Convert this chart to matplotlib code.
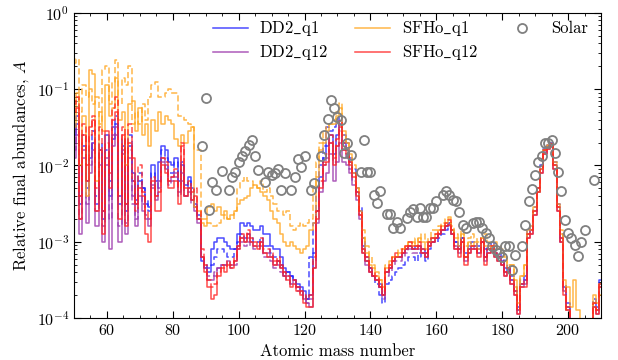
import numpy as np
import matplotlib
matplotlib.use("Agg")
import matplotlib.pyplot as plt
from matplotlib.ticker import MultipleLocator

plt.rcParams['font.family'] = 'serif'
plt.rcParams['font.serif'] = ['cmr10']
plt.rcParams['mathtext.fontset'] = 'cm'
plt.rcParams['axes.formatter.use_mathtext'] = True

mass_number = np.arange(50, 211)

# log10 abundances, A = 50..210
dd2_q1_solid = [
 -1.6, -1.45, -2.5, -1.75, -2.3, -1.9, -1.7, -2.5, -1.8, -2.7,
 -1.6, -2.4, -1.65, -1.45, -2.5, -1.75, -2.6, -1.75, -2.1, -2.45,
 -2.2, -2.3, -2.5, -2.55, -2.0, -2.2, -1.95, -1.75, -1.8, -1.95,
 -2.0, -1.9, -2.2, -2.0, -2.25, -2.15, -2.3, -2.55, -2.65, -3.25,
 -3.35, -3.4, -3.1, -3.0, -2.95, -2.95, -3.0, -3.05, -3.1, -3.1,
 -2.9, -2.75, -2.8, -2.75, -2.8, -2.85, -2.85, -2.8, -2.9, -2.9,
 -3.05, -3.1, -3.1, -3.2, -3.35, -3.4, -3.45, -3.5, -3.55, -3.6,
 -3.65, -3.75, -3.7, -3.15, -2.6, -2.15, -1.9, -1.75, -1.6, -1.85,
 -1.6, -1.45, -1.7, -1.8, -1.95, -2.1, -2.35, -2.6, -3.05, -3.2,
 -3.35, -3.45, -3.5, -3.55, -3.7, -3.4, -3.35, -3.25, -3.2, -3.2,
 -3.15, -3.1, -3.05, -3.1, -3.05, -3.05, -3.1, -3.15, -3.0, -2.95,
 -2.95, -2.9, -2.85, -2.8, -2.75, -2.85, -3.0, -3.1, -2.95, -3.2,
 -3.1, -3.05, -3.05, -3.1, -3.0, -3.2, -3.1, -3.05, -3.15, -3.2,
 -3.25, -3.4, -3.35, -3.5, -3.65, -3.9, -3.55, -3.5, -2.9, -2.85,
 -2.6, -2.3, -2.05, -1.8, -1.75, -1.7, -2.0, -2.55, -2.95, -3.6,
 -3.85, -4.2, -4.2, -4.2, -4.2, -4.2, -4.2, -4.2, -3.8, -3.9,
 -3.55]
dd2_q1_dashed = [
 -1.5, -1.35, -2.4, -1.6, -2.2, -1.8, -1.55, -2.4, -1.7, -2.6,
 -1.8, -2.2, -1.5, -1.35, -2.4, -1.65, -2.5, -1.6, -2.2, -2.5,
 -2.1, -2.3, -2.45, -2.6, -2.1, -2.3, -2.2, -1.8, -1.9, -2.1,
 -2.1, -1.95, -2.25, -1.95, -2.3, -2.2, -2.4, -2.5, -2.7, -3.2,
 -3.3, -3.35, -3.3, -3.2, -3.1, -3.1, -3.15, -3.2, -3.2, -3.1,
 -3.0, -2.9, -2.95, -2.9, -2.95, -3.0, -3.0, -2.95, -3.05, -3.05,
 -3.15, -3.2, -3.25, -3.3, -3.45, -3.4, -3.45, -3.5, -3.6, -3.65,
 -3.7, -3.75, -3.2, -2.75, -2.3, -2.0, -1.75, -1.5, -1.55, -1.5,
 -1.45, -1.36, -1.6, -1.7, -1.9, -2.05, -2.3, -2.55, -2.95, -3.25,
 -3.35, -3.45, -3.55, -3.7, -3.8, -3.55, -3.5, -3.45, -3.4, -3.35,
 -3.3, -3.25, -3.2, -3.2, -3.25, -3.15, -3.2, -3.25, -3.1, -3.0,
 -3.0, -2.95, -2.9, -2.85, -2.8, -2.9, -3.0, -3.05, -2.95, -3.15,
 -3.05, -3.0, -3.0, -3.05, -2.95, -3.1, -3.05, -3.0, -3.1, -3.1,
 -3.2, -3.35, -3.3, -3.45, -3.6, -3.85, -3.5, -3.45, -2.85, -2.8,
 -2.55, -2.3, -2.0, -1.78, -1.73, -1.7, -1.95, -2.5, -2.9, -3.55,
 -3.8, -4.2, -4.2, -4.2, -4.2, -4.2, -4.2, -4.2, -3.75, -3.85,
 -3.5]
dd2_q12_solid = [
 -1.9, -1.6, -2.9, -1.9, -2.75, -2.1, -1.8, -2.8, -2.0, -3.0,
 -1.9, -3.1, -1.75, -1.6, -3.0, -1.85, -2.9, -1.9, -2.4, -2.8,
 -2.4, -2.6, -2.7, -2.8, -2.3, -2.45, -2.2, -1.9, -2.0, -2.2,
 -2.15, -2.1, -2.35, -2.2, -2.4, -2.3, -2.45, -2.6, -2.75, -3.2,
 -3.35, -3.5, -3.5, -3.45, -3.35, -3.3, -3.3, -3.25, -3.3, -3.25,
 -3.05, -2.95, -3.0, -2.95, -3.0, -3.05, -3.05, -3.0, -3.15, -3.15,
 -3.2, -3.3, -3.25, -3.35, -3.4, -3.45, -3.55, -3.5, -3.6, -3.65,
 -3.75, -3.8, -3.85, -3.35, -2.75, -2.35, -2.2, -2.1, -1.85, -2.2,
 -1.95, -1.7, -1.95, -2.0, -2.1, -2.25, -2.45, -2.7, -3.15, -3.3,
 -3.4, -3.45, -3.5, -3.6, -3.7, -3.4, -3.35, -3.25, -3.2, -3.2,
 -3.15, -3.1, -3.05, -3.1, -3.1, -3.05, -3.15, -3.2, -3.05, -3.0,
 -2.95, -2.9, -2.85, -2.8, -2.78, -2.9, -3.1, -3.15, -3.0, -3.25,
 -3.15, -3.1, -3.1, -3.15, -3.0, -3.25, -3.15, -3.1, -3.2, -3.25,
 -3.3, -3.45, -3.4, -3.55, -3.7, -3.95, -3.6, -3.55, -2.95, -2.9,
 -2.65, -2.35, -2.1, -1.85, -1.78, -1.72, -2.05, -2.6, -3.0, -3.65,
 -3.9, -4.2, -4.2, -4.2, -4.2, -4.2, -4.2, -4.2, -3.85, -3.95,
 -3.6]
dd2_q12_dashed = [
 -1.8, -1.5, -2.7, -1.8, -2.5, -2.0, -1.7, -2.6, -1.9, -2.8,
 -2.0, -2.7, -1.6, -1.5, -2.8, -1.8, -2.75, -1.8, -2.5, -2.7,
 -2.3, -2.5, -2.65, -2.7, -2.25, -2.4, -2.3, -1.95, -2.05, -2.25,
 -2.2, -2.15, -2.4, -2.1, -2.4, -2.35, -2.5, -2.55, -2.7, -3.2,
 -3.3, -3.45, -3.45, -3.4, -3.35, -3.3, -3.3, -3.3, -3.35, -3.3,
 -3.1, -3.0, -3.05, -3.0, -3.05, -3.1, -3.1, -3.05, -3.2, -3.2,
 -3.25, -3.35, -3.3, -3.4, -3.45, -3.5, -3.55, -3.55, -3.65, -3.7,
 -3.75, -3.8, -3.75, -3.25, -2.6, -2.25, -2.0, -1.9, -1.7, -1.95,
 -1.75, -1.55, -1.8, -1.9, -2.05, -2.2, -2.4, -2.65, -3.1, -3.25,
 -3.4, -3.45, -3.5, -3.6, -3.75, -3.45, -3.4, -3.3, -3.25, -3.25,
 -3.2, -3.15, -3.1, -3.15, -3.15, -3.1, -3.15, -3.2, -3.05, -3.0,
 -2.95, -2.9, -2.85, -2.8, -2.75, -2.9, -3.05, -3.1, -3.0, -3.2,
 -3.1, -3.05, -3.1, -3.15, -3.0, -3.2, -3.1, -3.1, -3.15, -3.2,
 -3.3, -3.4, -3.4, -3.5, -3.65, -3.9, -3.55, -3.5, -2.9, -2.85,
 -2.6, -2.35, -2.05, -1.82, -1.75, -1.72, -2.0, -2.55, -3.0, -3.6,
 -3.9, -4.2, -4.2, -4.2, -4.2, -4.2, -4.2, -4.2, -3.8, -3.9,
 -3.55]
sfho_q1_solid = [
 -1.5, -1.05, -2.0, -1.35, -2.4, -0.75, -0.8, -2.2, -1.3, -1.55,
 -0.95, -1.35, -1.25, -0.85, -1.4, -1.3, -2.0, -1.2, -1.15, -1.55,
 -1.25, -1.6, -1.45, -1.75, -1.4, -1.55, -1.3, -1.45, -1.35, -1.4,
 -1.45, -1.65, -1.75, -1.6, -1.7, -1.55, -1.5, -2.55, -2.6, -2.75,
 -2.8, -2.55, -2.5, -2.6, -2.55, -2.65, -2.6, -2.7, -2.65, -2.6,
 -2.5, -2.45, -2.42, -2.4, -2.3, -2.25, -2.3, -2.35, -2.4, -2.45,
 -2.6, -2.7, -2.75, -2.9, -3.0, -3.05, -3.0, -3.05, -3.1, -3.15,
 -3.1, -3.05, -2.85, -2.75, -2.15, -1.8, -1.7, -1.55, -1.45, -1.45,
 -1.35, -1.25, -1.55, -1.7, -1.85, -2.1, -2.3, -2.6, -2.95, -3.15,
 -3.3, -3.35, -3.45, -3.5, -3.6, -3.35, -3.3, -3.2, -3.2, -3.15,
 -3.1, -3.05, -3.0, -3.0, -3.05, -2.95, -3.0, -3.1, -3.0, -2.95,
 -2.9, -2.85, -2.8, -2.75, -2.7, -2.85, -2.95, -3.05, -2.9, -3.2,
 -3.0, -3.05, -3.0, -3.1, -2.95, -3.05, -3.05, -3.1, -3.05, -3.1,
 -3.15, -3.2, -3.35, -3.3, -3.5, -3.8, -3.45, -3.3, -2.85, -2.8,
 -2.55, -2.3, -2.05, -1.8, -1.75, -1.72, -2.0, -2.55, -2.9, -3.5,
 -3.6, -3.85, -3.5, -3.9, -4.2, -4.2, -4.2, -4.2, -3.7, -3.8,
 -3.55]
sfho_q1_dashed = [
 -0.65, -0.6, -1.3, -0.95, -1.1, -1.0, -1.2, -1.1, -1.45, -0.75,
 -0.7, -1.2, -0.9, -0.62, -1.2, -0.85, -0.95, -0.7, -1.45, -1.3,
 -1.45, -1.2, -1.4, -1.1, -0.95, -0.9, -1.1, -1.1, -1.05, -1.0,
 -1.05, -1.05, -1.35, -1.35, -1.4, -1.45, -1.5, -1.8, -1.8, -2.7,
 -2.7, -2.75, -2.8, -2.8, -2.75, -2.7, -2.65, -2.7, -2.7, -2.6,
 -2.3, -2.2, -2.15, -2.2, -2.2, -2.25, -2.3, -2.2, -2.35, -2.3,
 -2.4, -2.5, -2.6, -2.6, -2.65, -2.6, -2.8, -2.85, -2.8, -2.75,
 -2.8, -2.75, -2.7, -2.3, -1.95, -1.7, -1.55, -1.5, -1.45, -1.4,
 -1.3, -1.18, -1.6, -1.7, -1.9, -2.0, -2.3, -2.6, -2.85, -3.05,
 -3.2, -3.3, -3.4, -3.5, -3.5, -3.3, -3.25, -3.2, -3.2, -3.1,
 -3.1, -3.05, -3.0, -3.05, -2.95, -3.0, -2.9, -3.0, -2.95, -2.85,
 -2.85, -2.8, -2.75, -2.7, -2.68, -2.8, -2.9, -2.95, -2.85, -3.05,
 -2.95, -2.9, -2.95, -3.0, -2.95, -2.9, -3.0, -3.05, -3.0, -3.05,
 -3.1, -3.2, -3.3, -3.3, -3.6, -3.9, -3.45, -3.3, -2.9, -2.85,
 -2.6, -2.35, -2.05, -1.8, -1.73, -1.7, -1.95, -2.5, -2.85, -3.6,
 -3.9, -4.2, -4.2, -4.2, -4.2, -4.2, -4.2, -4.2, -3.8, -3.9,
 -3.7]
sfho_q12_solid = [
 -1.3, -1.25, -2.7, -1.6, -2.2, -1.5, -1.4, -2.6, -1.8, -2.9,
 -1.55, -2.3, -1.4, -1.3, -2.7, -1.6, -2.8, -1.7, -1.9, -2.5,
 -2.3, -2.4, -2.9, -3.0, -2.2, -2.6, -2.6, -2.0, -2.1, -2.3,
 -2.3, -2.2, -2.5, -1.75, -2.4, -2.3, -2.45, -2.4, -2.7, -3.2,
 -3.4, -3.6, -3.75, -3.7, -3.45, -3.35, -3.4, -3.3, -3.35, -3.25,
 -3.1, -2.95, -3.0, -2.9, -3.0, -3.05, -3.1, -3.0, -3.15, -3.2,
 -3.2, -3.3, -3.25, -3.35, -3.45, -3.5, -3.6, -3.55, -3.65, -3.7,
 -3.8, -3.85, -3.85, -3.35, -2.7, -2.3, -2.0, -1.95, -1.7, -2.0,
 -1.75, -1.5, -1.8, -1.85, -2.0, -2.15, -2.4, -2.65, -3.15, -3.25,
 -3.4, -3.45, -3.5, -3.6, -3.7, -3.4, -3.35, -3.25, -3.2, -3.2,
 -3.15, -3.1, -3.05, -3.1, -3.1, -3.05, -3.15, -3.2, -3.05, -3.0,
 -2.95, -2.9, -2.85, -2.8, -2.78, -2.9, -3.1, -3.2, -3.0, -3.3,
 -3.15, -3.1, -3.1, -3.2, -3.0, -3.3, -3.15, -3.1, -3.2, -3.25,
 -3.3, -3.45, -3.4, -3.55, -3.7, -3.95, -3.6, -3.6, -2.95, -2.9,
 -2.65, -2.35, -2.1, -1.85, -1.78, -1.72, -2.05, -2.6, -3.0, -3.7,
 -3.9, -4.2, -4.2, -4.2, -4.2, -4.2, -4.2, -4.2, -3.85, -3.95,
 -3.6]
sfho_q12_dashed = [
 -1.2, -1.1, -2.4, -1.45, -2.0, -1.6, -1.35, -2.3, -1.5, -2.6,
 -1.7, -2.1, -1.25, -1.1, -2.4, -1.5, -2.5, -1.45, -2.2, -2.6,
 -2.0, -2.35, -2.6, -2.7, -2.15, -2.4, -2.35, -1.9, -1.95, -2.2,
 -2.15, -2.05, -2.3, -1.7, -2.3, -2.2, -2.35, -2.3, -2.6, -3.1,
 -3.3, -3.5, -3.6, -3.55, -3.4, -3.3, -3.35, -3.25, -3.3, -3.2,
 -3.05, -2.9, -2.95, -2.85, -2.95, -3.0, -3.05, -2.95, -3.1, -3.1,
 -3.15, -3.25, -3.2, -3.3, -3.4, -3.45, -3.5, -3.5, -3.6, -3.65,
 -3.7, -3.75, -3.7, -3.2, -2.6, -2.2, -1.95, -1.85, -1.6, -1.9,
 -1.65, -1.42, -1.7, -1.8, -1.95, -2.1, -2.35, -2.6, -3.1, -3.2,
 -3.35, -3.4, -3.45, -3.55, -3.65, -3.35, -3.3, -3.2, -3.15, -3.15,
 -3.1, -3.05, -3.0, -3.05, -3.05, -3.0, -3.1, -3.15, -3.0, -2.95,
 -2.9, -2.85, -2.8, -2.75, -2.72, -2.85, -3.05, -3.1, -2.95, -3.2,
 -3.1, -3.05, -3.05, -3.15, -2.95, -3.2, -3.1, -3.05, -3.15, -3.2,
 -3.25, -3.4, -3.35, -3.5, -3.65, -3.9, -3.55, -3.5, -2.9, -2.85,
 -2.6, -2.3, -2.05, -1.8, -1.75, -1.7, -2.0, -2.55, -2.95, -3.6,
 -3.85, -4.2, -4.2, -4.2, -4.2, -4.2, -4.2, -4.2, -3.8, -3.9,
 -3.55]

solar_A = [89, 90, 91, 92, 93, 95, 97, 98, 99, 100, 101, 102, 103, 104, 105, 106,
           108, 109, 110, 111, 112, 113, 114, 116, 117, 118, 119, 120, 122, 123,
           125, 126, 127, 128, 129, 130, 131, 132, 133, 134, 137, 138, 139, 140,
           141, 142, 143, 145, 146, 147, 148, 149, 151, 152, 153, 154, 155, 156,
           157, 158, 159, 160, 162, 163, 164, 165, 166, 167, 168, 169, 171, 172,
           173, 174, 175, 176, 177, 178, 179, 180, 181, 182, 183, 184, 186, 187,
           188, 189, 190, 191, 192, 193, 194, 195, 196, 197, 198, 199, 200, 201,
           202, 203, 204, 205, 208]
solar_log = [-1.75, -1.12, -2.59, -2.22, -2.32, -2.07, -2.32, -2.15, -2.09, -1.95,
             -1.88, -1.81, -1.73, -1.67, -1.88, -2.06, -2.22, -2.08, -2.12, -2.10,
             -2.05, -2.32, -2.10, -2.32, -2.15, -1.91, -2.02, -1.88, -2.32, -2.23,
             -1.88, -1.60, -1.39, -1.14, -1.24, -1.36, -1.40, -1.84, -1.71, -1.86,
             -2.08, -1.67, -2.09, -2.09, -2.39, -2.49, -2.34, -2.63, -2.63, -2.82,
             -2.74, -2.82, -2.69, -2.61, -2.57, -2.67, -2.56, -2.67, -2.67, -2.56,
             -2.56, -2.47, -2.39, -2.34, -2.39, -2.45, -2.47, -2.61, -2.78, -2.82,
             -2.76, -2.74, -2.74, -2.82, -2.89, -2.95, -3.06, -3.11, -3.15, -3.20,
             -3.06, -3.06, -3.37, -3.17, -3.06, -2.78, -2.47, -2.31, -2.12, -1.95,
             -1.88, -1.71, -1.71, -1.67, -1.84, -2.08, -2.34, -2.71, -2.89, -2.95,
             -3.04, -3.19, -3.00, -2.84, -2.19]

series = [
    (r'$\mathrm{DD2\_q1}$', '#1f1fff', dd2_q1_solid, dd2_q1_dashed),
    (r'$\mathrm{DD2\_q12}$', '#9933aa', dd2_q12_solid, dd2_q12_dashed),
    (r'$\mathrm{SFHo\_q1}$', '#ffa41c', sfho_q1_solid, sfho_q1_dashed),
    (r'$\mathrm{SFHo\_q12}$', '#ff2020', sfho_q12_solid, sfho_q12_dashed),
]

fig = plt.figure(figsize=(6.18, 3.60), dpi=100)
ax = fig.add_axes([0.1197, 0.1167, 0.8528, 0.8472])

for label, color, solid, dashed in series:
    assert len(solid) == len(mass_number) and len(dashed) == len(mass_number)
    ax.step(mass_number, 10 ** np.array(solid), where='mid', color=color,
            lw=1.1, alpha=0.8, label=label)
    ax.step(mass_number, 10 ** np.array(dashed), where='mid', color=color,
            lw=1.1, alpha=0.8, ls=(0, (4, 2)))

ax.plot(solar_A, 10 ** np.array(solar_log), 'o', mfc='none', mec='#808080',
        ms=6.5, mew=1.3, label='Solar')

ax.set_yscale('log')
ax.set_xlim(50, 210)
ax.set_ylim(1e-4, 1)
ax.xaxis.set_major_locator(MultipleLocator(20))
ax.xaxis.set_minor_locator(MultipleLocator(5))
ax.tick_params(which='both', direction='in', top=True, right=True, labelsize=11.5)
ax.tick_params(which='major', length=5)
ax.tick_params(which='minor', length=2.5)
ax.set_xlabel('Atomic mass number', fontsize=12)
ax.set_ylabel('Relative final abundances, $A$', fontsize=12)

ax.legend(loc='upper right', bbox_to_anchor=(0.995, 1.012), ncol=3,
          frameon=False, fontsize=12, handlelength=2.1, handletextpad=0.7,
          columnspacing=1.6, borderaxespad=0.2, labelspacing=0.3)

fig.savefig('out.png', dpi=100)
